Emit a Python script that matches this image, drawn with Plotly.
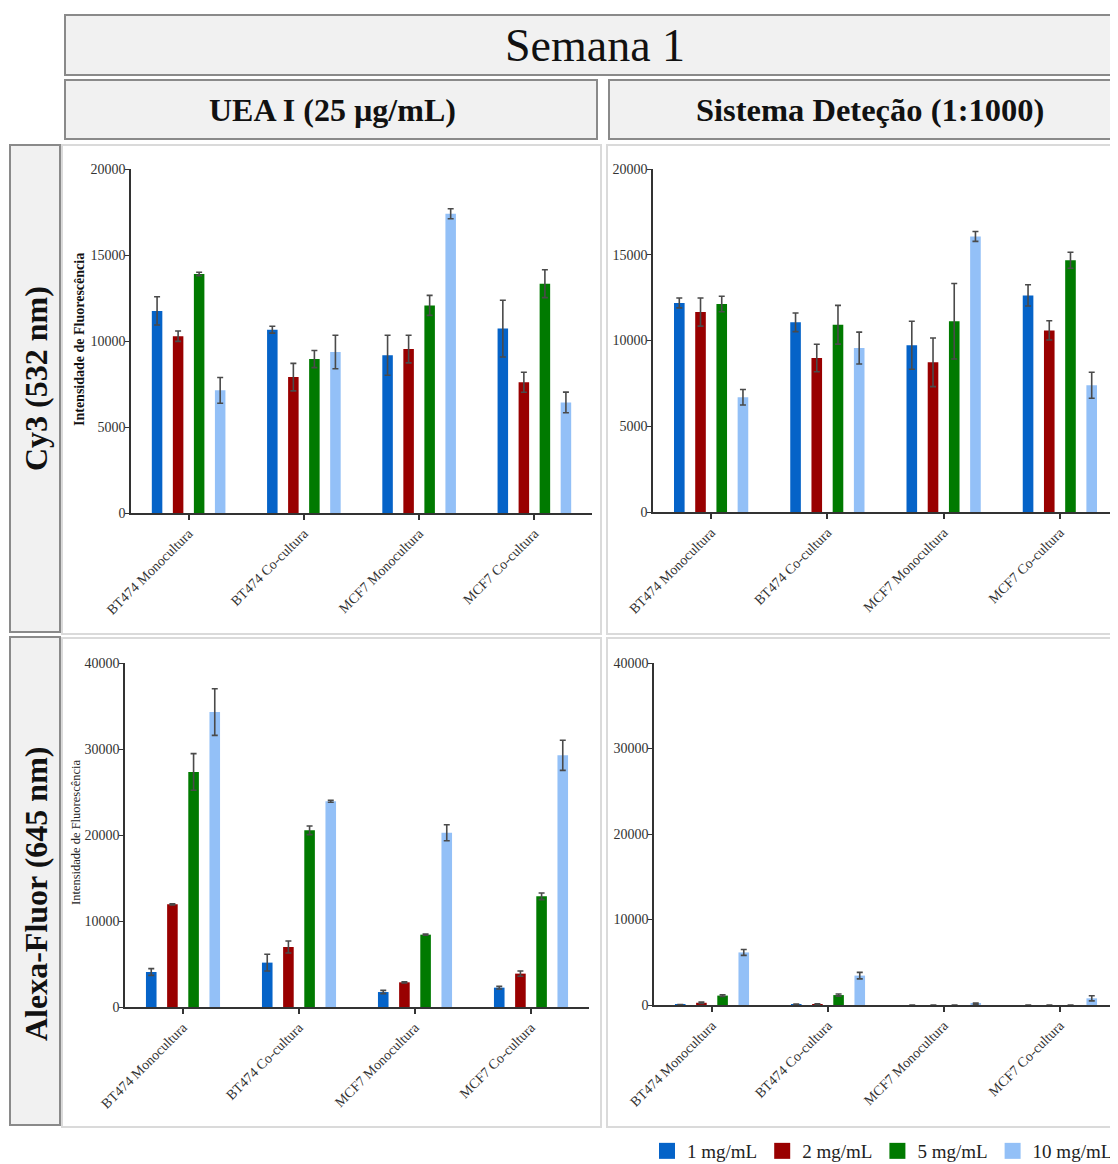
import plotly.graph_objects as go

OFF = 8  # page body margin
W, H = 1118 - OFF, 1164 - OFF
FONT = "Liberation Serif"

categories = ["BT474 Monocultura", "BT474 Co-cultura", "MCF7 Monocultura", "MCF7 Co-cultura"]
series_names = ["1 mg/mL", "2 mg/mL", "5 mg/mL", "10 mg/mL"]
series_colors = ["#0563c8", "#990000", "#007a00", "#93c0f7"]

# Cy3 (532 nm) - UEA I
cy3_uea_1 = [11750, 10660, 9170, 10720]
cy3_uea_2 = [10280, 7900, 9530, 7600]
cy3_uea_5 = [13900, 8950, 12070, 13330]
cy3_uea_10 = [7130, 9360, 17400, 6430]
cy3_uea_1_err = [820, 200, 1160, 1650]
cy3_uea_2_err = [300, 800, 800, 580]
cy3_uea_5_err = [100, 500, 580, 810]
cy3_uea_10_err = [750, 970, 290, 600]

# Cy3 (532 nm) - Sistema Deteção
cy3_sd_1 = [12190, 11060, 9720, 12630]
cy3_sd_2 = [11660, 8980, 8730, 10590]
cy3_sd_5 = [12130, 10920, 11120, 14680]
cy3_sd_10 = [6690, 9560, 16070, 7390]
cy3_sd_1_err = [290, 540, 1400, 620]
cy3_sd_2_err = [820, 800, 1420, 560]
cy3_sd_5_err = [450, 1130, 2200, 470]
cy3_sd_10_err = [450, 930, 290, 760]

# Alexa-Fluor (645 nm) - UEA I
af_uea_1 = [4070, 5160, 1740, 2250]
af_uea_2 = [11940, 6980, 2870, 3880]
af_uea_5 = [27330, 20540, 8410, 12870]
af_uea_10 = [34300, 23920, 20270, 29260]
af_uea_1_err = [390, 970, 190, 150]
af_uea_2_err = [60, 700, 60, 310]
af_uea_5_err = [2130, 500, 60, 390]
af_uea_10_err = [2710, 120, 930, 1750]

# Alexa-Fluor (645 nm) - Sistema Deteção
af_sd_1 = [40, 80, 0, 0]
af_sd_2 = [260, 100, 0, 0]
af_sd_5 = [1100, 1160, 0, 0]
af_sd_10 = [6150, 3440, 150, 780]
af_sd_1_err = [20, 20, None, None]
af_sd_2_err = [80, 30, None, None]
af_sd_5_err = [100, 120, None, None]
af_sd_10_err = [350, 380, 80, 300]

panels = [
    ("x", "y", [cy3_uea_1, cy3_uea_2, cy3_uea_5, cy3_uea_10],
     [cy3_uea_1_err, cy3_uea_2_err, cy3_uea_5_err, cy3_uea_10_err]),
    ("x2", "y2", [cy3_sd_1, cy3_sd_2, cy3_sd_5, cy3_sd_10],
     [cy3_sd_1_err, cy3_sd_2_err, cy3_sd_5_err, cy3_sd_10_err]),
    ("x3", "y3", [af_uea_1, af_uea_2, af_uea_5, af_uea_10],
     [af_uea_1_err, af_uea_2_err, af_uea_5_err, af_uea_10_err]),
    ("x4", "y4", [af_sd_1, af_sd_2, af_sd_5, af_sd_10],
     [af_sd_1_err, af_sd_2_err, af_sd_5_err, af_sd_10_err]),
]


def px(x):
    return (x - OFF) / W


def py(y):
    return 1 - (y - OFF) / H


fig = go.Figure()
for xa, ya, vals, errs in panels:
    for name, color, v, e in zip(series_names, series_colors, vals, errs):
        fig.add_trace(go.Bar(
            x=categories, y=v, name=name, xaxis=xa, yaxis=ya,
            marker=dict(color=color, line=dict(width=0)),
            error_y=dict(type="data", array=e, visible=True,
                         color="#4a4a4a", thickness=1.6, width=3),
            showlegend=False,
        ))

# legend entries
for name, color in zip(series_names, series_colors):
    fig.add_trace(go.Scatter(
        x=[None], y=[None], mode="markers", name=name,
        marker=dict(symbol="square", size=16, color=color),
        xaxis="x", yaxis="y", showlegend=True,
    ))

tickfont = dict(family=FONT, size=14, color="#333333")
xcommon = dict(type="category", range=[-0.5, 3.5], showline=True, linecolor="#333333",
               linewidth=1.5, ticks="outside", ticklen=5, tickcolor="#333333",
               tickwidth=1.5, showgrid=False, zeroline=False, tickangle=-45,
               tickfont=tickfont, fixedrange=True, automargin=False)
ycommon = dict(showline=True, linecolor="#333333", linewidth=1.5, ticks="outside",
               ticklen=4, tickcolor="#333333", tickwidth=1.2, showgrid=False,
               zeroline=False, tickfont=tickfont, fixedrange=True, ticklabelstandoff=-3,
               tickformat="d", automargin=False)

fig.update_layout(
    width=W, height=H,
    margin=dict(l=0, r=0, t=0, b=0, pad=0, autoexpand=False),
    paper_bgcolor="white", plot_bgcolor="rgba(0,0,0,0)",
    barmode="group", bargap=0.27, bargroupgap=0.5,
    font=dict(family=FONT, color="#222222"),
    xaxis=dict(domain=[px(131), px(592)], anchor="y", **xcommon),
    yaxis=dict(domain=[py(513), py(169)], anchor="x", range=[0, 20000], dtick=5000, **ycommon),
    xaxis2=dict(domain=[px(653), px(1118)], anchor="y2", **xcommon),
    yaxis2=dict(domain=[py(512), py(169)], anchor="x2", range=[0, 20000], dtick=5000, **ycommon),
    xaxis3=dict(domain=[px(125), px(589)], anchor="y3", **xcommon),
    yaxis3=dict(domain=[py(1007), py(663)], anchor="x3", range=[0, 40000], dtick=10000, **ycommon),
    xaxis4=dict(domain=[px(654), px(1118)], anchor="y4", **xcommon),
    yaxis4=dict(domain=[py(1005), py(663)], anchor="x4", range=[0, 40000], dtick=10000, **ycommon),
    legend=dict(orientation="h", x=1.0, xanchor="right", y=py(1151), yanchor="middle",
                font=dict(family=FONT, size=19, color="#222222"),
                bgcolor="rgba(0,0,0,0)", itemclick=False, itemdoubleclick=False,
                tracegroupgap=0, borderwidth=0),
    showlegend=True,
)

shapes = []


def box(x0, y0, x1, y1, fill, line, lw):
    shapes.append(dict(type="rect", xref="paper", yref="paper",
                       x0=px(x0), x1=px(x1), y0=py(y1), y1=py(y0),
                       fillcolor=fill, line=dict(color=line, width=lw), layer="below"))


HEAD_FILL = "#f1f1f1"
HEAD_LINE = "#8a8a8a"
PANEL_LINE = "#dadada"
box(65, 15, 1130, 75, HEAD_FILL, HEAD_LINE, 2)
box(65, 80, 597, 139, HEAD_FILL, HEAD_LINE, 2)
box(609, 80, 1130, 139, HEAD_FILL, HEAD_LINE, 2)
box(10, 145, 60, 632, HEAD_FILL, HEAD_LINE, 2)
box(10, 637, 60, 1125, HEAD_FILL, HEAD_LINE, 2)
box(62, 145, 601, 634, "white", PANEL_LINE, 2)
box(607, 145, 1130, 634, "white", PANEL_LINE, 2)
box(62, 638, 601, 1127, "white", PANEL_LINE, 2)
box(607, 638, 1130, 1127, "white", PANEL_LINE, 2)
fig.update_layout(shapes=shapes)

annotations = [
    dict(text="Semana 1", x=px(595), y=py(46), font=dict(size=46, color="#111111")),
    dict(text="<b>UEA I (25 µg/mL)</b>", x=px(332), y=py(110), font=dict(size=32, color="#111111")),
    dict(text="<b>Sistema Deteção (1:1000)</b>", x=px(870), y=py(110), font=dict(size=32.5, color="#111111")),
    dict(text="<b>Cy3 (532 nm)</b>", x=px(36), y=py(379), textangle=-90, font=dict(size=32, color="#111111")),
    dict(text="<b>Alexa-Fluor (645 nm)</b>", x=px(36), y=py(894), textangle=-90, font=dict(size=32, color="#111111")),
    dict(text="<b>Intensidade de Fluorescência</b>", x=px(80), y=py(340), textangle=-90,
         font=dict(size=14, color="#111111")),
    dict(text="Intensidade de Fluorescência", x=px(76), y=py(832), textangle=-90,
         font=dict(size=12.5, color="#222222")),
]
for a in annotations:
    a.update(xref="paper", yref="paper", showarrow=False, xanchor="center", yanchor="middle")
    a["font"]["family"] = FONT
fig.update_layout(annotations=annotations)

fig.write_html("out.html")
